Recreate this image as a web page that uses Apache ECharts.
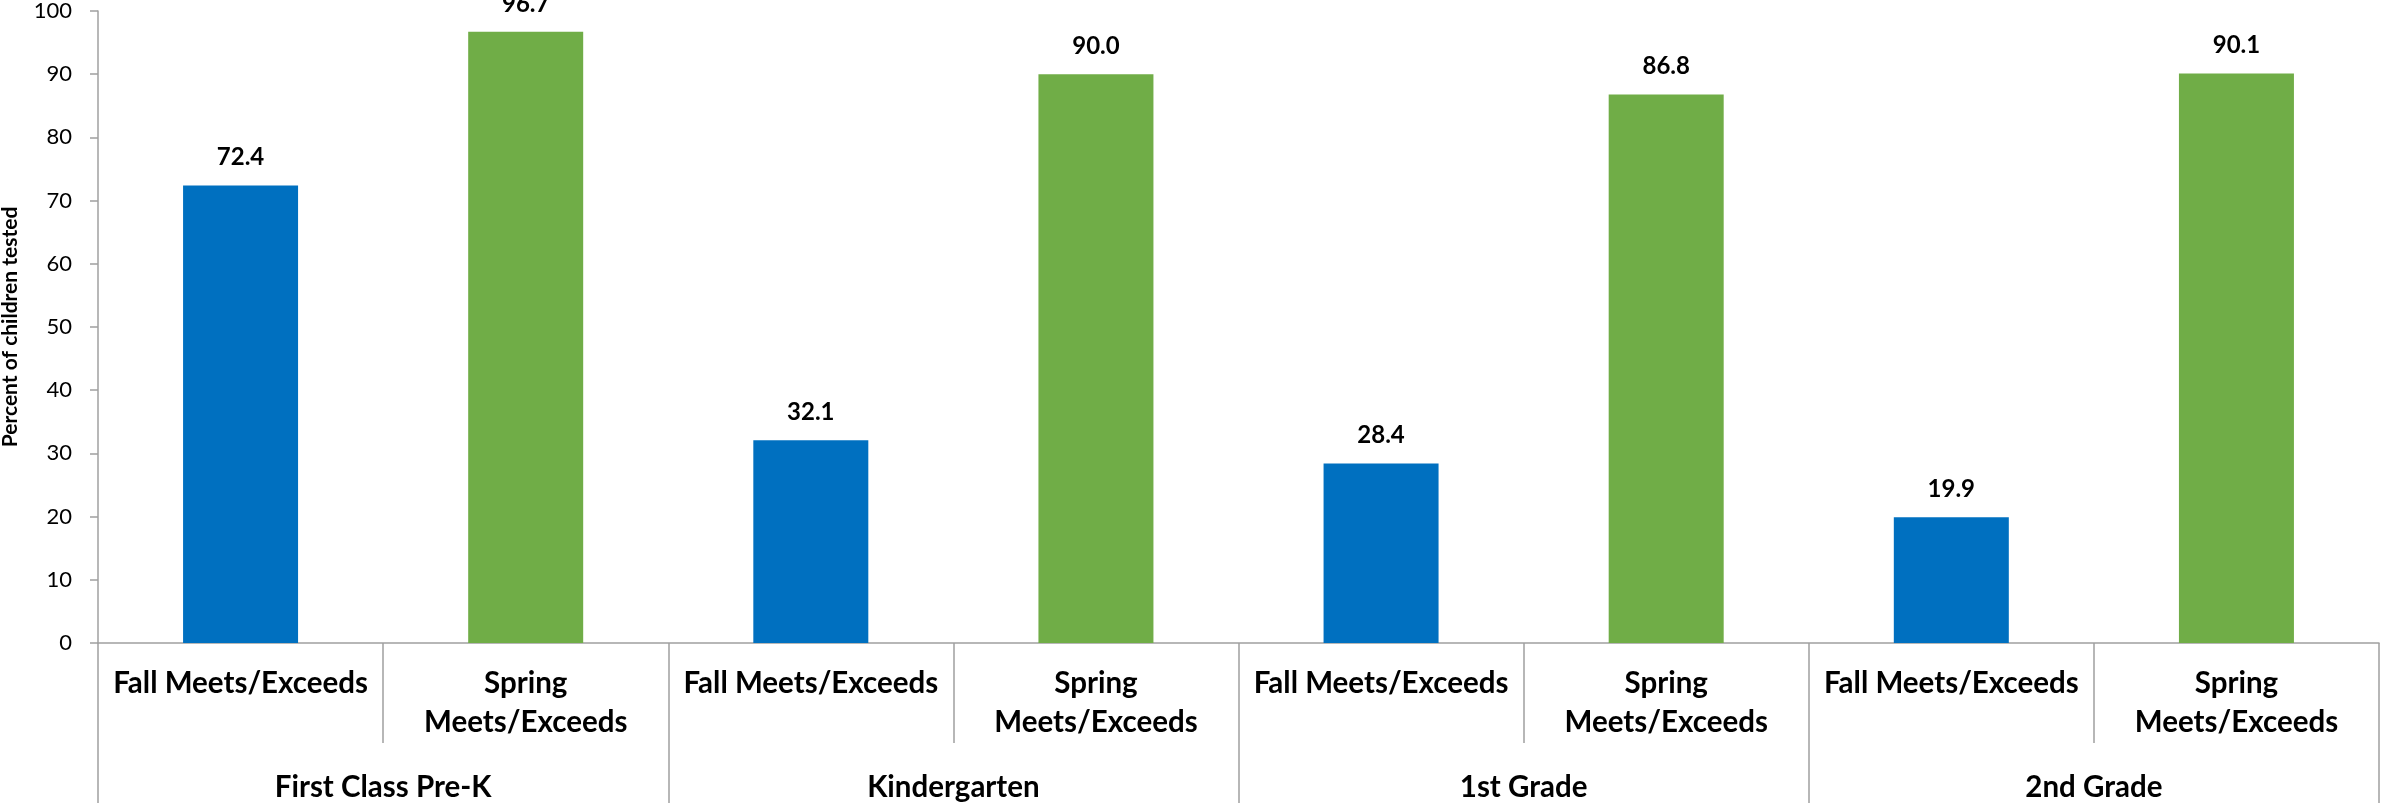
<!DOCTYPE html>
<html>
<head>
<meta charset="utf-8">
<title>Percent of children meeting or exceeding benchmarks</title>
<script src="https://cdn.jsdelivr.net/npm/echarts@6/dist/echarts.min.js"></script>
<style>
  html, body { margin: 0; padding: 0; background: #ffffff; }
  #chart { width: 2382px; height: 803px; }
</style>
</head>
<body>
<div id="chart"></div>
<script>
// Program groups (outer axis level)
const groups = ['First Class Pre-K', 'Kindergarten', '1st Grade', '2nd Grade'];
// Assessment windows within each group (inner axis level)
const windows = ['Fall Meets/Exceeds', 'Spring\nMeets/Exceeds'];
// Percent of children tested who meet or exceed expectations
const fallValues = [72.4, 32.1, 28.4, 19.9];
const springValues = [96.7, 90.0, 86.8, 90.1];
// Y axis scale
const yMin = 0;
const yMax = 100;
const yStep = 10;

const FONT = 'Lato, "Noto Sans", "Liberation Sans", sans-serif';
const AXIS_GRAY = '#A0A0A0';

// Inner categories: each group contributes one fall and one spring slot
const innerCategories = [];
const fallSeries = [];
const springSeries = [];
groups.forEach(function (g, i) {
  innerCategories.push(windows[0], windows[1]);
  fallSeries.push(fallValues[i], '-');
  springSeries.push('-', springValues[i]);
});

const valueLabel = {
  show: true,
  position: 'top',
  distance: 16,
  fontFamily: FONT,
  fontSize: 24,
  fontWeight: 'bold',
  color: '#000000',
  formatter: function (p) { return Number(p.value).toFixed(1); }
};

const chart = echarts.init(document.getElementById('chart'), null, { renderer: 'canvas' });

chart.setOption({
  animation: false,
  backgroundColor: '#ffffff',
  grid: { left: 98, right: 3, top: 11, bottom: 160, containLabel: false, outerBoundsMode: 'none' },
  xAxis: [
    {
      type: 'category',
      position: 'bottom',
      data: innerCategories,
      axisLine: { show: true, lineStyle: { color: AXIS_GRAY, width: 1.5 } },
      axisTick: { show: true, interval: 0, length: 100, lineStyle: { color: AXIS_GRAY, width: 1.5 } },
      axisLabel: {
        interval: 0,
        margin: 21,
        fontFamily: FONT,
        fontSize: 29.5,
        fontWeight: 'bold',
        lineHeight: 39,
        color: '#000000',
        align: 'center'
      }
    },
    {
      type: 'category',
      position: 'bottom',
      data: groups,
      axisLine: { show: false },
      axisTick: { show: true, interval: 0, length: 165, lineStyle: { color: AXIS_GRAY, width: 1.5 } },
      axisLabel: {
        interval: 0,
        margin: 125,
        fontFamily: FONT,
        fontSize: 29.5,
        fontWeight: 'bold',
        lineHeight: 39,
        color: '#000000'
      }
    }
  ],
  yAxis: {
    type: 'value',
    min: yMin,
    max: yMax,
    interval: yStep,
    name: 'Percent of children tested',
    nameLocation: 'middle',
    nameRotate: 90,
    nameGap: 77,
    nameTextStyle: { fontFamily: FONT, fontSize: 21, fontWeight: 'bold', color: '#000000' },
    axisLine: { show: true, lineStyle: { color: AXIS_GRAY, width: 1.5 } },
    axisTick: { show: true, inside: false, length: 8, lineStyle: { color: AXIS_GRAY, width: 1.5 } },
    axisLabel: { margin: 26, fontFamily: FONT, fontSize: 22, color: '#000000' },
    splitLine: { show: false }
  },
  series: [
    {
      name: 'Fall Meets/Exceeds',
      type: 'bar',
      xAxisIndex: 0,
      data: fallSeries,
      barWidth: 115,
      barGap: '-100%',
      itemStyle: { color: '#0070C0' },
      label: valueLabel
    },
    {
      name: 'Spring Meets/Exceeds',
      type: 'bar',
      xAxisIndex: 0,
      data: springSeries,
      barWidth: 115,
      barGap: '-100%',
      itemStyle: { color: '#70AD47' },
      label: valueLabel
    }
  ]
});
</script>
</body>
</html>
